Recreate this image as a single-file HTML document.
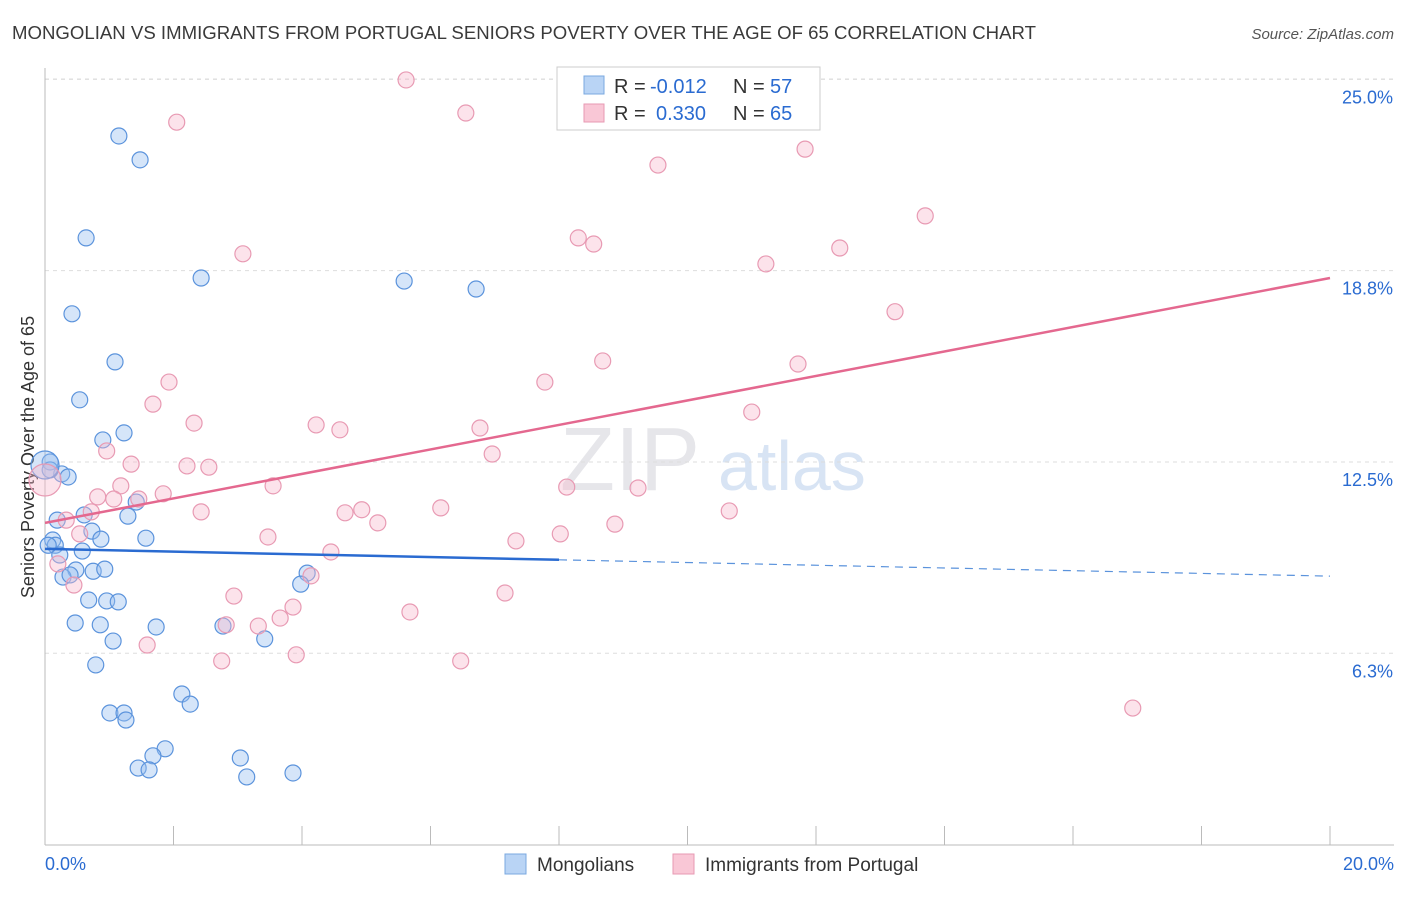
<!DOCTYPE html>
<html><head><meta charset="utf-8"><style>
body{margin:0;background:#fff;font-family:"Liberation Sans",sans-serif}
svg text{font-family:"Liberation Sans",sans-serif}
</style></head><body>
<svg width="1406" height="892" id="c">
<text x="12" y="39" font-size="18" fill="#3a3a3a" textLength="1024" lengthAdjust="spacingAndGlyphs">MONGOLIAN VS IMMIGRANTS FROM PORTUGAL SENIORS POVERTY OVER THE AGE OF 65 CORRELATION CHART</text>
<text x="1394" y="39" font-size="15" fill="#555" font-style="italic" text-anchor="end">Source: ZipAtlas.com</text>
<text x="560" y="490" font-size="90" fill="#e6e6ea" font-family="Liberation Serif">ZIP</text>
<text x="718" y="490" font-size="70" fill="#d8e4f4">atlas</text>
<text transform="translate(34,457) rotate(-90)" font-size="18" fill="#333" text-anchor="middle">Seniors Poverty Over the Age of 65</text>
<g id="grid"></g><g id="ax"></g><g id="pts"></g><g id="lines"></g>
<g>
<rect x="557" y="67" width="263" height="63" fill="#fff" stroke="#ccc"/>
<rect x="584" y="76" width="20" height="18" fill="#b9d4f5" stroke="#7aa8e0"/>
<rect x="584" y="104" width="20" height="18" fill="#f9c7d6" stroke="#e79ab3"/>
<text x="614" y="93" font-size="20" fill="#333">R =</text>
<text x="650" y="93" font-size="20" fill="#2a6bd1">-0.012</text>
<text x="733" y="93" font-size="20" fill="#333">N =</text>
<text x="770" y="93" font-size="20" fill="#2a6bd1">57</text>
<text x="614" y="120" font-size="20" fill="#333">R =</text>
<text x="656" y="120" font-size="20" fill="#2a6bd1">0.330</text>
<text x="733" y="120" font-size="20" fill="#333">N =</text>
<text x="770" y="120" font-size="20" fill="#2a6bd1">65</text>
</g>
<g>
<rect x="505" y="854" width="21" height="20" fill="#b9d4f5" stroke="#7aa8e0"/>
<text x="537" y="871" font-size="19" fill="#333">Mongolians</text>
<rect x="673" y="854" width="21" height="20" fill="#f9c7d6" stroke="#e79ab3"/>
<text x="705" y="871" font-size="19" fill="#333">Immigrants from Portugal</text>
</g>
</svg>
<script>
const yTicks=[25,18.75,12.5,6.25];
const yTickLabels=["25.0%","18.8%","12.5%","6.3%"];
const xTickCount=10;
const blueX=[1.15,1.48,0.64,2.43,5.59,6.71,0.42,1.09,0.54,1.23,0.90,0.08,0.26,0.36,1.42,0.19,0.61,1.29,0.73,1.57,0.87,0.12,0.16,0.58,0.23,0.48,0.75,0.93,0.28,0.39,4.08,3.98,0.68,0.96,1.14,0.47,0.86,1.73,2.77,1.06,3.42,0.79,2.13,2.26,1.01,1.23,1.26,1.87,1.68,1.45,1.62,3.04,3.14,3.86,0.05,0.08,0.0];
const blueY=[23.15,22.37,19.82,18.51,18.41,18.15,17.34,15.77,14.53,13.45,13.22,12.50,12.11,12.01,11.19,10.60,10.77,10.73,10.24,10.01,9.98,9.95,9.78,9.59,9.46,8.97,8.93,9.00,8.74,8.81,8.87,8.51,7.99,7.96,7.93,7.24,7.18,7.11,7.14,6.65,6.72,5.87,4.92,4.59,4.30,4.30,4.07,3.13,2.90,2.50,2.44,2.83,2.21,2.34,9.78,12.24,12.40];
const pinkX=[5.62,6.55,2.05,9.54,11.83,13.70,8.30,8.54,12.37,3.08,11.22,13.23,8.68,11.72,7.78,1.93,1.68,11.00,2.32,4.22,4.59,6.77,6.96,0.96,1.34,2.21,2.55,3.55,8.12,9.23,1.18,1.84,0.82,1.46,1.07,2.43,6.16,4.93,4.67,5.18,10.65,8.87,0.72,0.33,0.54,8.02,7.33,3.47,4.45,4.14,0.20,0.45,7.16,2.94,3.86,5.68,3.66,2.82,3.32,1.59,2.75,3.91,6.47,16.93,0];
const pinkY=[24.98,23.90,23.60,22.20,22.72,20.54,19.82,19.62,19.49,19.30,18.97,17.41,15.80,15.70,15.11,15.11,14.39,14.13,13.77,13.71,13.55,13.61,12.76,12.86,12.43,12.37,12.33,11.72,11.68,11.65,11.72,11.46,11.36,11.29,11.29,10.87,11.00,10.94,10.84,10.51,10.90,10.47,10.87,10.60,10.15,10.15,9.92,10.05,9.56,8.78,9.17,8.48,8.22,8.12,7.76,7.60,7.40,7.18,7.14,6.52,6.00,6.20,6.00,4.46,11.91];
const blueTrend=[9.66,8.77];
const pinkTrend=[10.51,18.51];
const X=v=>45+v*64.25, Y=v=>844.6-v*30.61;
const NS="http://www.w3.org/2000/svg";
function mk(t,a,p){const e=document.createElementNS(NS,t);for(const k in a)e.setAttribute(k,a[k]);document.getElementById(p).appendChild(e);return e;}
yTicks.forEach((t,i)=>{
 const l=mk('line',{x1:45,x2:1394,y1:Y(t),y2:Y(t),stroke:'#ddd','stroke-dasharray':'4,4'},'grid');
 
 
 const tx=mk('text',{x:1393,y:Y(t)+24,'font-size':18,fill:'#2a6bd1','text-anchor':'end'},'ax');
 tx.textContent=yTickLabels[i];
 
 
});
mk('line',{x1:45,x2:1394,y1:79,y2:79,stroke:'#ddd','stroke-dasharray':'4,4'},'grid');
mk('line',{x1:45,x2:45,y1:68,y2:845,stroke:'#bbb'},'ax');
const xa=mk('line',{x1:45,x2:1394,y1:845,y2:845,stroke:'#bbb'},'ax');


for(let i=0;i<=xTickCount;i++){const tk=mk('line',{x1:X(i*2),x2:X(i*2),y1:826,y2:845,stroke:'#bbb'},'ax');
 
 }
const t0=mk('text',{x:45,y:870,'font-size':18,fill:'#2a6bd1'},'ax');t0.textContent='0.0%';


const t1=mk('text',{x:1394,y:870,'font-size':18,fill:'#2a6bd1','text-anchor':'end'},'ax');t1.textContent='20.0%';


blueX.forEach((x,i)=>{const r=i==blueX.length-1?14:8;const c=mk('circle',{cx:X(x),cy:Y(blueY[i]),r:r,fill:'rgba(150,190,240,0.4)',stroke:'#5b93dc','stroke-width':1.2},'pts');
 
 });
pinkX.forEach((x,i)=>{const r=i==pinkX.length-1?16:8;const c=mk('circle',{cx:X(x),cy:Y(pinkY[i]),r:r,fill:'rgba(248,185,205,0.4)',stroke:'#e89ab3','stroke-width':1.2},'pts');
 
 });
const bm=blueTrend[0]+(blueTrend[1]-blueTrend[0])*0.4;
const b1=mk('line',{x1:X(0),y1:Y(blueTrend[0]),x2:X(8),y2:Y(bm),stroke:'#2a6bd1','stroke-width':2.5},'lines');


const b2=mk('line',{x1:X(8),y1:Y(bm),x2:X(20),y2:Y(blueTrend[1]),stroke:'#5b93dc','stroke-width':1.2,'stroke-dasharray':'8,6'},'lines');


const p1=mk('line',{x1:X(0),y1:Y(pinkTrend[0]),x2:X(20),y2:Y(pinkTrend[1]),stroke:'#e4688f','stroke-width':2.5},'lines');


</script>
</body></html>
